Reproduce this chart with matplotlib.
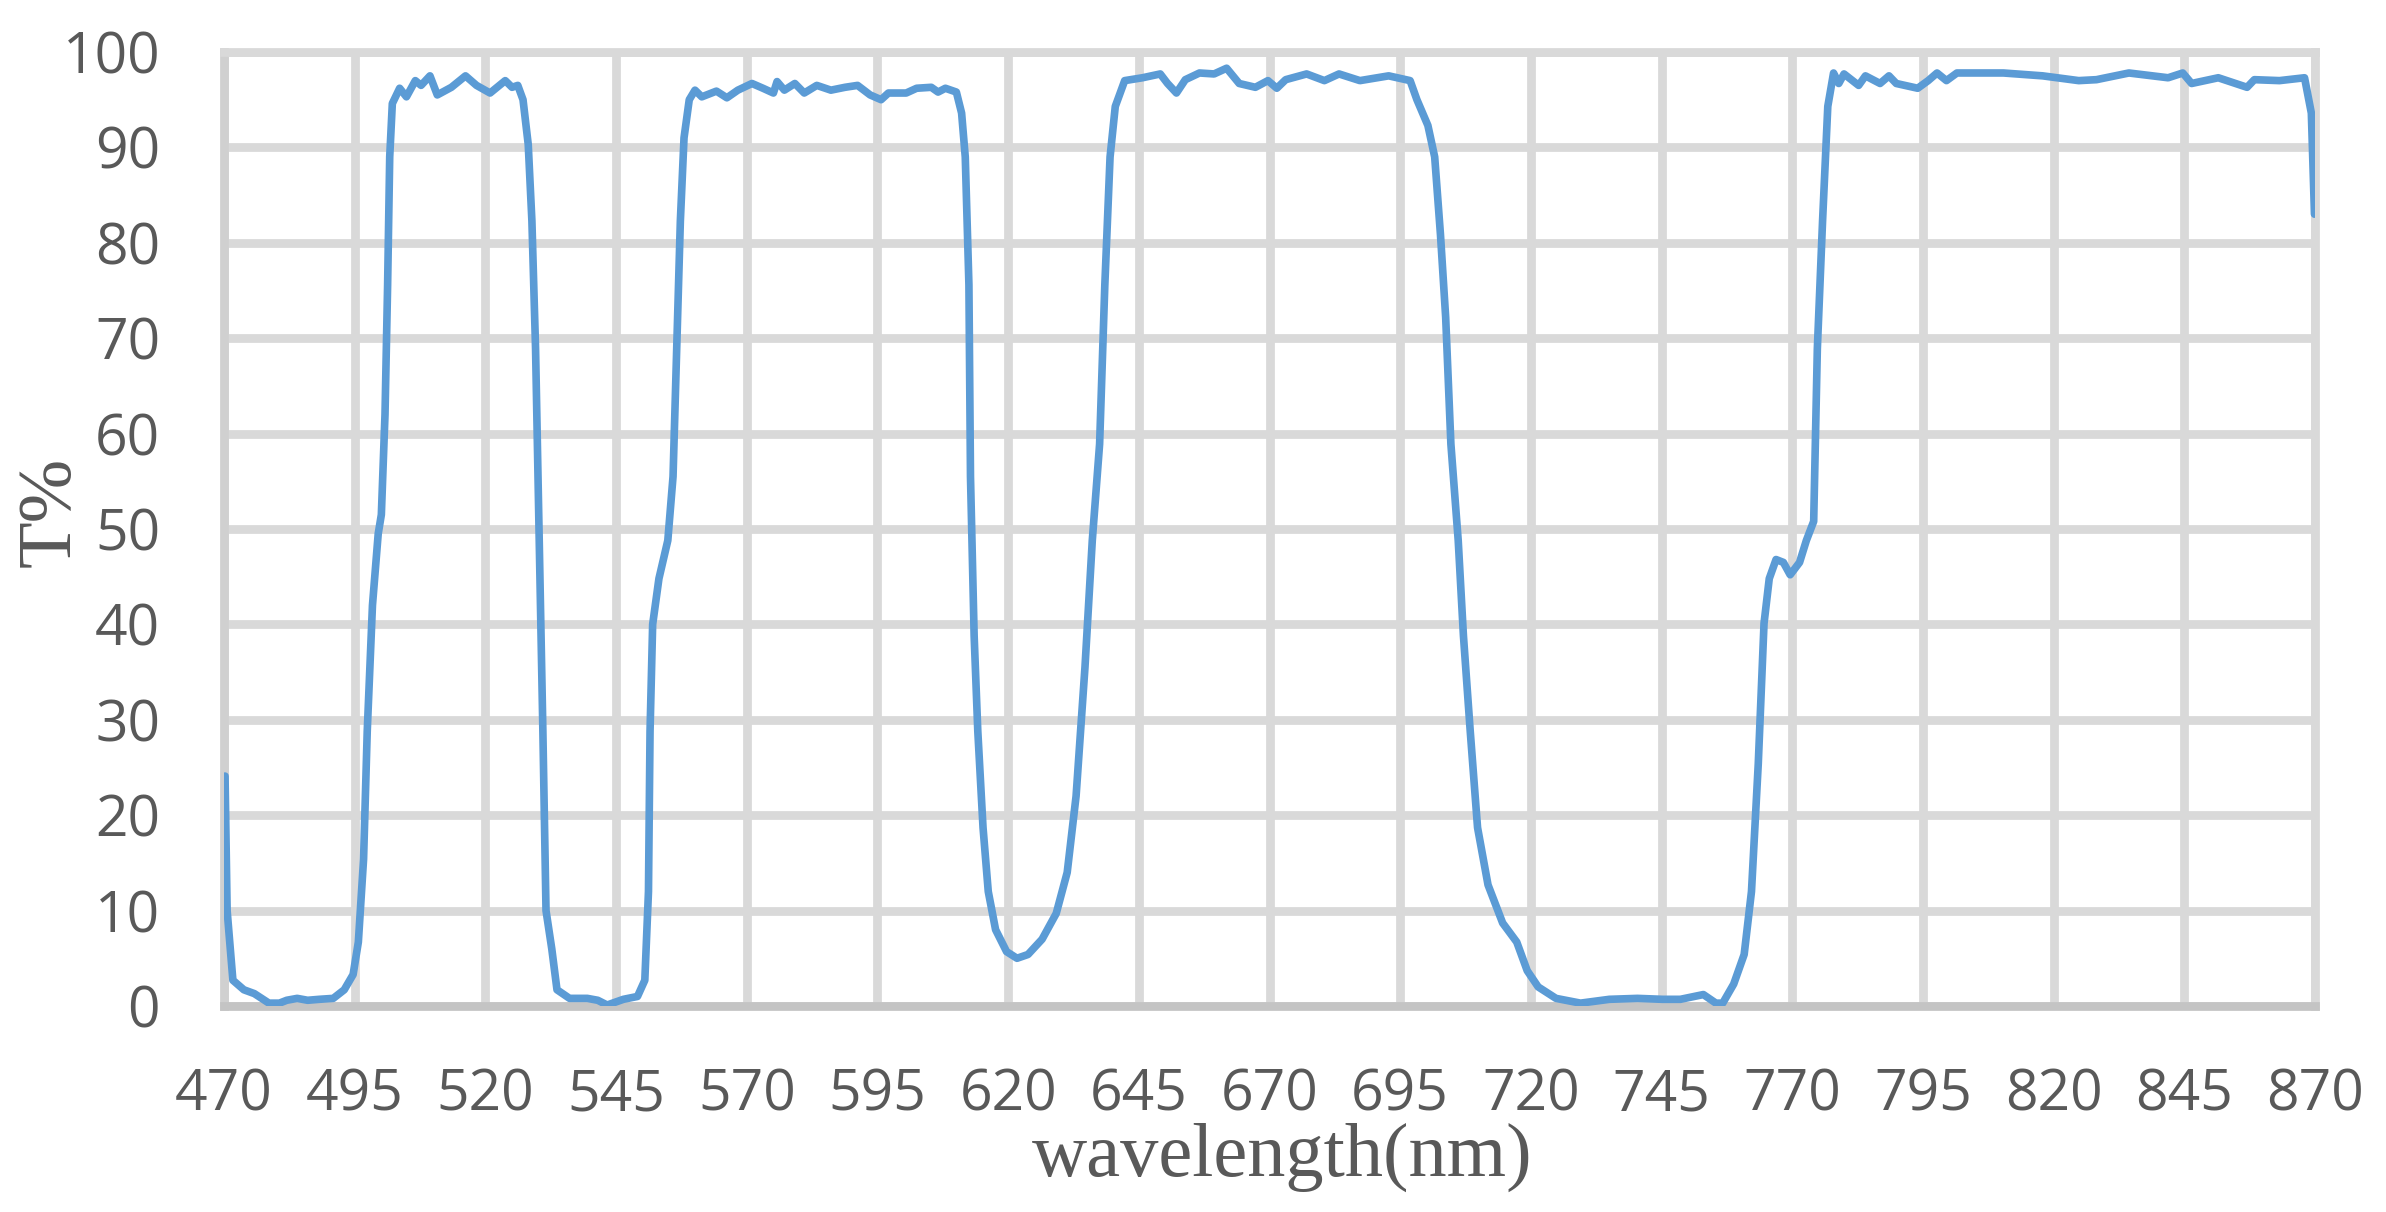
import matplotlib
matplotlib.use("Agg")
import matplotlib.pyplot as plt

wavelength = [470.2, 470.6, 471.7, 473.8, 475.8, 477.2, 478.6, 480.6, 482.0, 484.0, 486.0, 488.2,
              490.9, 493.0, 494.7, 495.7, 496.7, 497.4, 498.4, 499.5, 500.1, 500.8, 501.3, 501.7,
              502.2, 503.6, 504.9, 506.6, 507.7, 509.4, 510.8, 513.5, 516.2, 518.3, 520.9, 523.8,
              525.1, 526.2, 527.2, 528.2, 528.9, 529.6, 530.3, 531.0, 531.6, 532.7, 533.7, 536.1,
              539.5, 541.5, 543.3, 546.4, 549.1, 550.5, 551.2, 551.5, 552.0, 553.2, 554.9, 555.9,
              556.6, 557.3, 558.0, 559.0, 560.1, 561.4, 564.2, 566.2, 568.3, 571.0, 573.1, 575.1,
              575.8, 577.2, 579.2, 581.0, 583.4, 586.1, 588.8, 591.2, 593.6, 595.7, 597.1, 600.5,
              602.5, 605.3, 606.6, 608.0, 610.1, 611.1, 611.8, 612.5, 612.8, 613.5, 614.2, 615.2,
              616.2, 617.6, 619.7, 621.7, 623.8, 626.5, 629.2, 631.3, 633.0, 634.7, 636.1, 637.5,
              638.5, 639.5, 640.5, 642.3, 645.7, 649.1, 650.5, 652.2, 653.9, 656.6, 659.4, 661.8,
              664.2, 667.3, 669.7, 671.4, 673.1, 677.1, 680.5, 683.3, 687.3, 692.8, 696.9, 698.2,
              700.3, 701.6, 702.7, 703.7, 704.7, 706.1, 707.1, 708.4, 709.8, 711.8, 714.6, 717.3,
              719.3, 721.4, 724.8, 729.5, 735.0, 740.4, 745.2, 748.6, 753.0, 755.4, 756.7, 758.8,
              760.8, 762.2, 763.5, 764.6, 765.6, 766.9, 768.3, 769.6, 771.4, 772.7, 774.1, 774.8,
              775.8, 776.8, 777.9, 778.9, 779.9, 782.7, 784.0, 786.8, 788.5, 789.9, 794.0, 796.0,
              797.7, 799.5, 801.5, 810.4, 817.9, 824.8, 828.2, 834.4, 841.9, 844.7, 846.4, 851.5,
              857.0, 858.4, 863.2, 868.0, 869.3, 869.9]

transmittance = [24.1, 10.0, 2.7, 1.7, 1.3, 0.8, 0.3, 0.3, 0.6, 0.8, 0.6, 0.7,
                 0.8, 1.7, 3.3, 6.7, 15.4, 28.8, 42.0, 49.5, 51.5, 62.0, 75.6, 89.0,
                 94.6, 96.2, 95.3, 97.0, 96.5, 97.5, 95.5, 96.3, 97.5, 96.5, 95.7, 97.0,
                 96.3, 96.5, 95.0, 90.3, 82.3, 68.9, 48.8, 28.8, 10.0, 6.0, 1.7, 0.8,
                 0.8, 0.6, 0.1, 0.7, 1.0, 2.7, 12.0, 28.8, 40.0, 44.8, 48.8, 55.5,
                 68.9, 82.3, 91.0, 95.0, 96.0, 95.3, 95.9, 95.2, 96.0, 96.7, 96.2, 95.7,
                 96.9, 96.0, 96.7, 95.7, 96.5, 96.0, 96.3, 96.5, 95.5, 95.0, 95.7, 95.7,
                 96.2, 96.3, 95.8, 96.2, 95.8, 93.6, 89.0, 75.6, 55.5, 38.8, 28.8, 18.7,
                 12.0, 8.0, 5.7, 5.0, 5.4, 7.0, 9.7, 14.0, 22.0, 35.5, 48.8, 58.9,
                 75.6, 89.0, 94.3, 97.0, 97.3, 97.7, 96.7, 95.7, 97.1, 97.8, 97.7, 98.3,
                 96.7, 96.3, 97.0, 96.2, 97.1, 97.7, 97.0, 97.7, 97.0, 97.5, 97.0, 95.0,
                 92.3, 89.0, 80.9, 72.2, 58.9, 48.8, 38.8, 28.8, 18.7, 12.7, 8.7, 6.7,
                 3.7, 2.0, 0.8, 0.3, 0.7, 0.8, 0.7, 0.7, 1.2, 0.3, 0.3, 2.3,
                 5.4, 12.0, 25.4, 40.1, 44.8, 46.8, 46.5, 45.2, 46.5, 48.8, 50.8, 68.9,
                 82.3, 94.3, 97.8, 96.7, 97.7, 96.5, 97.5, 96.7, 97.5, 96.7, 96.2, 97.0,
                 97.8, 97.0, 97.8, 97.8, 97.5, 97.0, 97.1, 97.8, 97.3, 97.8, 96.7, 97.3,
                 96.3, 97.1, 97.0, 97.3, 93.6, 83.0]

x_ticks = [470, 495, 520, 545, 570, 595, 620, 645, 670, 695, 720, 745, 770, 795, 820, 845, 870]
y_ticks = [0, 10, 20, 30, 40, 50, 60, 70, 80, 90, 100]
x_label = "wavelength(nm)"
y_label = "T%"

W, H = 2386, 1212
fig = plt.figure(figsize=(W / 100, H / 100), dpi=100)
ax = fig.add_axes([224 / W, 1 - 1006 / H, (2315 - 224) / W, (1006 - 52) / H])

grid_c = "#d9d9d9"
ax.plot(wavelength, transmittance, color="#5B9BD5", lw=5.5, solid_joinstyle="round",
        solid_capstyle="round", zorder=3)

ax.set_xlim(470, 870)
ax.set_ylim(0, 100)
ax.set_xticks(x_ticks)
ax.set_yticks(y_ticks)
ax.set_axisbelow(True)
ax.grid(True, color=grid_c, lw=6.3)

for side, sp in ax.spines.items():
    sp.set_linewidth(6.3)
    sp.set_color(grid_c)
ax.spines["bottom"].set_color("#c4c4c4")
ax.spines["left"].set_color("#d0d0d0")

tick_font = {"family": ["Open Sans", "DejaVu Sans"], "size": 41}
ax.tick_params(axis="both", length=0, colors="#595959")
ax.tick_params(axis="x", pad=44)
ax.tick_params(axis="y", pad=46)
for lab in ax.get_xticklabels() + ax.get_yticklabels():
    lab.set_fontfamily(tick_font["family"])
    lab.set_fontsize(tick_font["size"])

fig.text(51 / W, 1 - 512 / H, y_label, rotation=90, ha="center", va="center",
         fontsize=55, family=["Liberation Serif", "DejaVu Serif"], color="#595959")
fig.text(1282 / W, 1 - 1176 / H, x_label, ha="center", va="baseline",
         fontsize=55, family=["Liberation Serif", "DejaVu Serif"], color="#595959")

fig.savefig("out.png", dpi=100, facecolor="white")
